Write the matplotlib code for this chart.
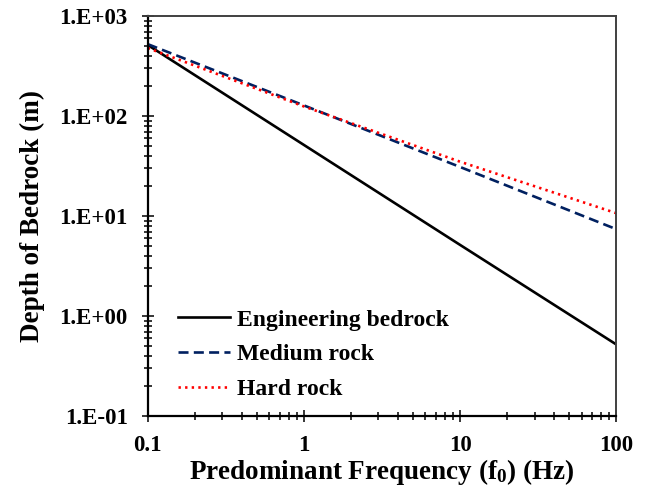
import math
import matplotlib
matplotlib.use("Agg")
import matplotlib.pyplot as plt
from matplotlib.ticker import FixedLocator, FuncFormatter, LogLocator, NullFormatter

plt.rcParams['font.family'] = 'Liberation Serif'
plt.rcParams['font.weight'] = 'bold'
plt.rcParams['mathtext.fontset'] = 'custom'
plt.rcParams['mathtext.rm'] = 'Liberation Serif:bold'
plt.rcParams['mathtext.it'] = 'Liberation Serif:bold'
plt.rcParams['mathtext.default'] = 'rm'

# values (log-log)
freq = [0.1, 1, 10, 100]
engineering = [515, 51.5, 5.15, 0.52]
medium = [525, 128, 31, 7.4]
hard = [480, 125, 35, 10.7]

fig = plt.figure(figsize=(6.48, 4.9), dpi=100)
ax = fig.add_axes([0.228, 0.151, 0.723, 0.816])

ax.plot(freq, engineering, color='black', lw=1.9, label='Engineering bedrock')
ax.plot(freq, medium, color='#002060', lw=1.9, ls=(0, (3.8, 2.0)), label='Medium rock')
ax.plot(freq, hard, color='#FF0000', lw=1.9, ls=(0, (0.9, 1.6)), label='Hard rock')

ax.set_xscale('log')
ax.set_yscale('log')
ax.set_xlim(0.1, 100)
ax.set_ylim(0.1, 1000)

ax.xaxis.set_major_locator(FixedLocator([0.1, 1, 10, 100]))
ax.xaxis.set_major_formatter(FuncFormatter(lambda v, p: '{:g}'.format(v)))
ax.xaxis.set_minor_locator(LogLocator(base=10, subs=range(2, 10)))
ax.xaxis.set_minor_formatter(NullFormatter())

ax.yaxis.set_major_locator(FixedLocator([0.1, 1, 10, 100, 1000]))
ax.yaxis.set_major_formatter(FuncFormatter(lambda v, p: '1.E{:+03d}'.format(int(round(math.log10(v))))))
ax.yaxis.set_minor_locator(LogLocator(base=10, subs=range(2, 10)))
ax.yaxis.set_minor_formatter(NullFormatter())

ax.tick_params(which='major', direction='inout', length=8, width=1.1, labelsize=16.5, colors='black')
ax.tick_params(which='minor', direction='inout', length=5.5, width=1.1)
ax.tick_params(axis='x', pad=10)
ax.tick_params(axis='y', pad=10.4)
for lab in ax.get_xticklabels() + ax.get_yticklabels():
    lab.set_fontweight('bold')

for s in ['left', 'bottom']:
    ax.spines[s].set_linewidth(1.6)
    ax.spines[s].set_color('black')
for s in ['top', 'right']:
    ax.spines[s].set_linewidth(1.4)
    ax.spines[s].set_color('#404040')

ax.set_xlabel('Predominant Frequency (f$_0$) (Hz)', fontsize=19.5, fontweight='bold', labelpad=0.5)
ax.set_ylabel('Depth of Bedrock (m)', fontsize=19.5, fontweight='bold', labelpad=10)

ax.legend(loc='lower left', bbox_to_anchor=(0.064, 0.04), frameon=False,
          prop={'size': 17, 'weight': 'bold'}, handlelength=2.2, labelspacing=0.56,
          handletextpad=0.3, borderpad=0, borderaxespad=0)

fig.savefig('out.png', dpi=100)
